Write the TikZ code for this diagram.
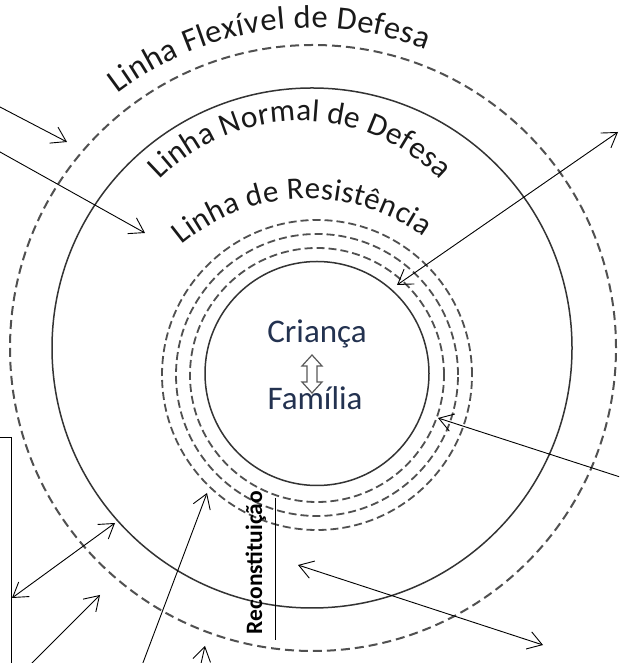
\documentclass[tikz,border=0pt]{standalone}
\usepackage{fontspec}
\setmainfont{Carlito}
\usetikzlibrary{arrows.meta,decorations.text}
\definecolor{txtgray}{RGB}{25,25,25}
\definecolor{navy}{RGB}{35,50,80}
\definecolor{dashgray}{RGB}{80,80,80}
\begin{document}
\begin{tikzpicture}[x=1pt,y=1pt,
  flexline/.style={draw=dashgray, line width=2pt, dash pattern=on 9pt off 5pt},
  solidline/.style={draw=black!80, line width=1.5pt},
  resistline/.style={draw=dashgray, line width=1.8pt, dash pattern=on 8pt off 4pt},
  conn/.style={draw=black, line width=0.9pt, -{Straight Barb[length=14pt,width=18pt]}},
  dconn/.style={draw=black, line width=0.9pt, {Straight Barb[length=14pt,width=18pt]}-{Straight Barb[length=14pt,width=18pt]}},
  arctext/.style 2 args={decorate, decoration={text along path, text color=txtgray, text align={fit to path}, text={|\fontsize{#1}{#1}\selectfont|#2}}},
  centertext/.style={anchor=base, font=\fontsize{33}{38}\selectfont, text=navy}
]
\clip (0,0) rectangle (619,663);
\fill[white] (0,0) rectangle (619,663);

% centres
\coordinate (cF) at (313,315);
\coordinate (cN) at (312,315);
\coordinate (cR) at (317,288);
\coordinate (cC) at (317,289.5);

% circles
\draw[flexline] (cF) circle[radius=303];
\draw[solidline] (cN) circle[radius=260];
\foreach \r in {127,141,155} \draw[resistline] (cR) circle[radius=\r];
\draw[solidline] (cC) circle[radius=112];

% arc labels
\coordinate (t1c) at (311,316);
\coordinate (t2c) at (300,345);
\coordinate (t3c) at (308,267);
\path[arctext={32.5}{Linha Flexível de Defesa}] (t1c) ++(127.4:319) arc[start angle=127.4, end angle=68.9, radius=319];
\path[arctext={31.5}{Linha Normal de Defesa}] (t2c) ++(135.4:197) arc[start angle=135.4, end angle=44.6, radius=197];
\path[arctext={31}{Linha de Resistência}] (t3c) ++(129.8:197) arc[start angle=129.8, end angle=54.1, radius=197];

% centre text
\node[centertext] (crianca) at (317,320) {Criança};
\node[centertext] (familia) at (315,253) {Família};
\draw[draw=black!65, fill=white, line width=1.2pt]
  (312,308) -- (322,297) -- (317,297) -- (317,281) -- (322,281) -- (312,270)
  -- (302,281) -- (307,281) -- (307,297) -- (302,297) -- cycle;

% reconstitution
\node[rotate=90, anchor=base, font=\bfseries\fontsize{23.5}{28}\selectfont, inner sep=0] (recon) at (262,100.5) {Reconstituição};
\coordinate (rl1) at (275,23);
\coordinate (rl2) at (275,165);
\draw[line width=0.9pt] (rl1) -- (rl2);

% left box
\node[draw, line width=1.3pt, minimum width=100pt, minimum height=300pt, anchor=north east, inner sep=0] (box) at (12,226) {};

% arrows
\coordinate (a1s) at (-5,558.6); \coordinate (a1e) at (67,521);
\coordinate (a2s) at (-5,513.8); \coordinate (a2e) at (145,430);
\coordinate (a3s) at (397,378); \coordinate (a3e) at (618,531);
\coordinate (a4s) at (625,184.4); \coordinate (a4e) at (438,245);
\coordinate (a5s) at (298,98); \coordinate (a5e) at (543,18);
\coordinate (a6s) at (12,65); \coordinate (a6e) at (115,140);
\coordinate (a7s) at (27,-5); \coordinate (a7e) at (100,68);
\coordinate (a8s) at (141,-5); \coordinate (a8e) at (207,170);
\coordinate (a9s) at (200,-5); \coordinate (a9e) at (205,17);

\draw[conn] (a1s) -- (a1e);
\draw[conn] (a2s) -- (a2e);
\draw[dconn] (a3s) -- (a3e);
\draw[conn] (a4s) -- (a4e);
\draw[dconn] (a5s) -- (a5e);
\draw[dconn] (a6s) -- (a6e);
\draw[conn] (a7s) -- (a7e);
\draw[conn] (a8s) -- (a8e);
\draw[conn] (a9s) -- (a9e);
\end{tikzpicture}
\end{document}
